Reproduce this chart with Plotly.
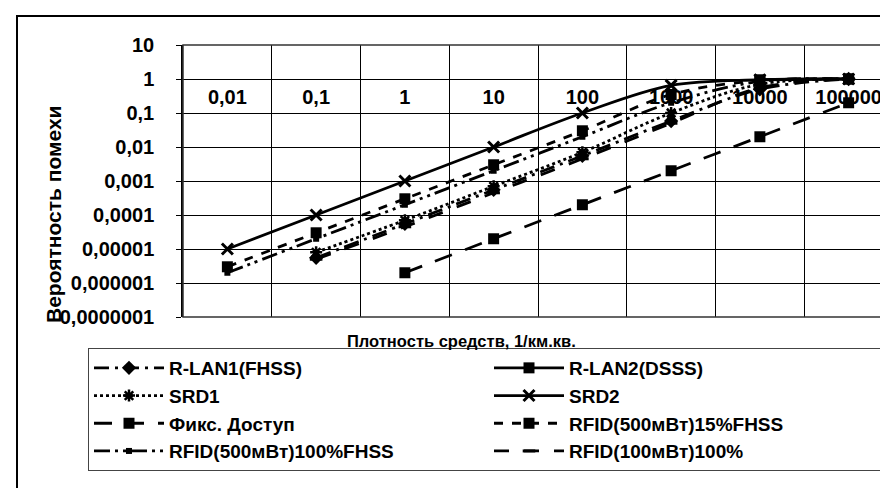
import plotly.graph_objects as go

# ---- data -------------------------------------------------------------
categories = ["0,01", "0,1", "1", "10", "100", "1000", "10000", "100000"]

r_lan1 = [None, 5.5e-6, 5.5e-5, 5.5e-4, 5.5e-3, 0.058, 0.5, 1.0]
r_lan2 = [None, None, None, None, None, None, 0.95, 1.0]
srd1 = [None, 8e-6, 7e-5, 7e-4, 7e-3, 0.1, 0.7, 1.0]
srd2 = [1e-5, 1e-4, 1e-3, 1e-2, 0.1, 0.65, 0.95, 1.0]
fix_access = [None, None, 2e-6, 2e-5, 2e-4, 2e-3, 2e-2, 0.2]
rfid500_15 = [3e-6, 3e-5, 3e-4, 3e-3, 0.03, 0.35, 0.9, 1.0]
rfid500_100 = [2e-6, 2e-5, 2e-4, 2e-3, 0.02, 0.2, 0.85, 1.0]
rfid100_100 = [None, 5e-6, 4.5e-5, 4.5e-4, 4.5e-3, 0.05, 0.55, 1.0]

y_tickvals = [10, 1, 0.1, 0.01, 0.001, 0.0001, 0.00001, 0.000001, 0.0000001]
y_ticktext = ["10", "1", "0,1", "0,01", "0,001", "0,0001", "0,00001",
              "0,000001", "0,0000001"]

FONT = "Liberation Sans, Arial, sans-serif"

series = [
    ("R-LAN1(FHSS)", r_lan1, "longdashdot", "diamond", 11, 0),
    ("R-LAN2(DSSS)", r_lan2, "solid", "square", 11, 0),
    ("SRD1", srd1, "dot", "asterisk", 10, 2.5),
    ("SRD2", srd2, "solid", "x-thin", 11, 3),
    ("Фикс. Доступ", fix_access, "18px,14px", "square", 11, 0),
    ("RFID(500мВт)15%FHSS", rfid500_15, "dash", "square", 11, 0),
    ("RFID(500мВт)100%FHSS", rfid500_100, "16px,5px,3px,5px,3px,5px", "square", 6, 0),
    ("RFID(100мВт)100%", rfid100_100, "longdash", "line-ew", 9, 3),
]

fig = go.Figure()
for name, vals, dash, sym, size, lw in series:
    fig.add_trace(go.Scatter(
        x=categories, y=vals, name=name, mode="lines+markers",
        line=dict(color="black", width=2.8, dash=dash, shape="spline", smoothing=1),
        marker=dict(symbol=sym, size=size, color="black",
                    line=dict(color="black", width=lw)),
        connectgaps=False,
    ))

L, R, T, B = 175, 3, 37, 179
W, H = 888, 488
pw, ph = W - L - R, H - T - B

def px(x):
    return (x - L) / pw

def py(y):
    return (H - B - y) / ph

fig.update_layout(
    width=W, height=H,
    margin=dict(l=L, r=R, t=T, b=B, autoexpand=False),
    paper_bgcolor="white", plot_bgcolor="white",
    font=dict(family=FONT, size=18, color="black"),
    showlegend=True,
    legend=dict(
        orientation="h", x=px(80), y=py(340), xanchor="left", yanchor="top",
        entrywidth=315, entrywidthmode="pixels", itemwidth=70,
        bordercolor="#444", borderwidth=1, bgcolor="white",
        font=dict(family=FONT, size=19, color="black", weight="bold"),
        tracegroupgap=0,
    ),
    xaxis=dict(
        type="category", categoryorder="array", categoryarray=categories,
        range=[-0.5, 7.5], tickson="boundaries", anchor="free",
        position=py(71), showgrid=True, gridcolor="black", gridwidth=1,
        showline=False, ticks="", zeroline=False,
        ticklabelstandoff=4, automargin=False,
        tickfont=dict(family=FONT, size=20, color="black", weight="bold"),
    ),
    yaxis=dict(
        type="log", range=[-7, 1], tickvals=y_tickvals, ticktext=y_ticktext,
        showgrid=True, gridcolor="black", gridwidth=1,
        showline=True, linecolor="black", linewidth=1.5, mirror=True,
        ticks="outside", ticklen=5, tickcolor="black",
        ticklabelstandoff=18, automargin=False,
        tickfont=dict(family=FONT, size=20, color="black", weight="bold"),
    ),
    shapes=[
        dict(type="rect", xref="paper", yref="paper", x0=0, x1=1, y0=0, y1=1,
             line=dict(color="#333", width=1.5), layer="above"),
        dict(type="rect", xref="paper", yref="paper", x0=px(9), x1=px(895),
             y0=py(495), y1=py(8), line=dict(color="black", width=2)),
    ],
    annotations=[
        dict(text="<b>Вероятность помехи</b>", xref="paper", yref="paper",
             x=px(45), y=py(207), textangle=-90, showarrow=False,
             xanchor="center", yanchor="middle",
             font=dict(family=FONT, size=21, color="black")),
        dict(text="<b>Плотность средств, 1/км.кв.</b>", xref="paper", yref="paper",
             x=px(453), y=py(333), showarrow=False,
             xanchor="center", yanchor="middle",
             font=dict(family=FONT, size=16.5, color="black")),
    ],
)

fig.write_html("out.html")
